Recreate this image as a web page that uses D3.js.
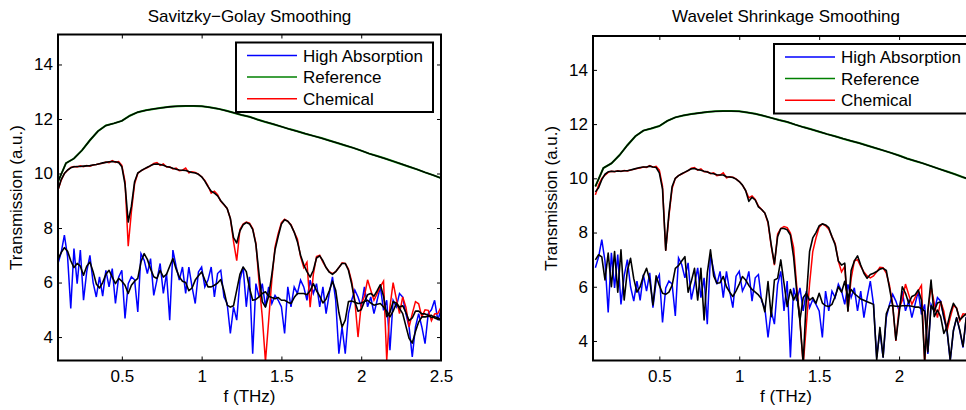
<!DOCTYPE html>
<html>
<head>
<meta charset="utf-8">
<script src="https://cdn.jsdelivr.net/npm/d3@7"></script>
<style>
  body { margin: 0; background: #fff; }
  svg { display: block; font-family: "Liberation Sans", Arial, Helvetica, sans-serif; }
</style>
</head>
<body>
<svg id="chart" width="966" height="410"></svg>
<script>
// frequency grid (THz)
const freq = [
  0.10, 0.12, 0.14, 0.16, 0.18, 0.20, 0.22, 0.24, 0.26, 0.28,
  0.30, 0.32, 0.34, 0.36, 0.38, 0.40, 0.42, 0.44, 0.46, 0.48,
  0.50, 0.52, 0.54, 0.56, 0.58, 0.60, 0.62, 0.64, 0.66, 0.68,
  0.70, 0.72, 0.74, 0.76, 0.78, 0.80, 0.82, 0.84, 0.86, 0.88,
  0.90, 0.92, 0.94, 0.96, 0.98, 1.00, 1.02, 1.04, 1.06, 1.08,
  1.10, 1.12, 1.14, 1.16, 1.18, 1.20, 1.22, 1.24, 1.26, 1.28,
  1.30, 1.32, 1.34, 1.36, 1.38, 1.40, 1.42, 1.44, 1.46, 1.48,
  1.50, 1.52, 1.54, 1.56, 1.58, 1.60, 1.62, 1.64, 1.66, 1.68,
  1.70, 1.72, 1.74, 1.76, 1.78, 1.80, 1.82, 1.84, 1.86, 1.88,
  1.90, 1.92, 1.94, 1.96, 1.98, 2.00, 2.02, 2.04, 2.06, 2.08,
  2.10, 2.12, 2.14, 2.16, 2.18, 2.20, 2.22, 2.24, 2.26, 2.28,
  2.30, 2.32, 2.34, 2.36, 2.38, 2.40, 2.42, 2.44, 2.46, 2.48,
  2.50
];

const refFreq = [
  0.10, 0.15, 0.20, 0.25, 0.30, 0.35, 0.40, 0.45, 0.50,
  0.55, 0.60, 0.65, 0.70, 0.75, 0.80, 0.85, 0.90, 0.95,
  1.00, 1.05, 1.10, 1.15, 1.20, 1.25, 1.30, 1.35, 1.40, 1.45,
  1.50, 1.55, 1.60, 1.65, 1.70, 1.75, 1.80, 1.85, 1.90, 1.95,
  2.00, 2.05, 2.10, 2.15, 2.20, 2.25, 2.30, 2.35, 2.40, 2.45, 2.50
];

const reference = [
  9.70, 10.38, 10.55, 10.85, 11.22, 11.55, 11.76, 11.84, 11.93,
  12.12, 12.25, 12.32, 12.37, 12.41, 12.45, 12.47, 12.48, 12.48,
  12.47, 12.43, 12.38, 12.31, 12.23, 12.15, 12.08, 11.98, 11.89, 11.81,
  11.72, 11.63, 11.55, 11.46, 11.38, 11.30, 11.21, 11.12, 11.03, 10.94,
  10.84, 10.73, 10.64, 10.55, 10.45, 10.35, 10.25, 10.15, 10.04, 9.94, 9.83
];

const highAbsorption = [
  6.70, 7.10, 7.74, 6.95, 5.05, 7.25, 5.96, 7.19, 5.35, 6.40,
  7.00, 6.00, 5.47, 6.21, 5.50, 6.45, 5.84, 6.51, 5.23, 6.20,
  6.45, 4.68, 5.96, 6.21, 6.10, 4.92, 7.06, 6.82, 6.33, 6.88,
  5.53, 6.09, 6.70, 5.60, 6.33, 4.62, 7.19, 6.60, 6.09, 6.57,
  5.60, 6.57, 5.84, 5.23, 6.39, 6.57, 5.84, 6.09, 6.57, 5.47,
  6.33, 6.45, 5.47, 5.23, 4.13, 5.11, 4.62, 6.09, 6.57, 5.11,
  6.21, 3.39, 5.96, 5.47, 5.96, 5.11, 5.84, 5.23, 5.53, 5.35,
  5.11, 4.13, 5.84, 5.11, 5.84, 5.60, 6.09, 5.84, 5.35, 6.09,
  5.60, 5.96, 5.11, 5.84, 4.86, 5.60, 6.21, 5.35, 3.39, 4.37,
  3.39, 4.86, 5.35, 5.72, 5.47, 5.11, 5.84, 5.11, 5.47, 4.86,
  5.35, 5.84, 4.98, 5.35, 3.52, 5.35, 5.11, 5.60, 5.47, 4.86,
  4.37, 3.27, 4.37, 4.86, 4.37, 3.76, 4.86, 5.00, 5.35, 4.62,
  5.00
];

const chemical = [
  9.39, 9.75, 10.00, 10.12, 10.22, 10.26, 10.24, 10.28, 10.25, 10.29,
  10.27, 10.31, 10.33, 10.36, 10.38, 10.42, 10.40, 10.47, 10.41, 10.44,
  10.30, 9.70, 7.33, 8.60, 9.62, 10.00, 10.10, 10.16, 10.22, 10.28,
  10.37, 10.40, 10.30, 10.35, 10.24, 10.25, 10.17, 10.20, 10.10, 10.12,
  10.20, 10.02, 10.06, 10.04, 9.98, 9.88, 9.75, 9.55, 9.28, 9.35,
  9.22, 8.98, 8.85, 8.72, 8.35, 7.50, 6.80, 7.95, 8.15, 8.22,
  8.18, 7.98, 7.45, 6.00, 4.75, 3.10, 4.60, 6.10, 7.30, 7.80,
  8.20, 8.32, 8.25, 8.12, 7.85, 7.60, 6.95, 6.55, 6.75, 5.10,
  6.30, 6.95, 7.00, 6.75, 6.55, 6.40, 6.33, 6.40, 6.55, 6.72,
  6.70, 6.50, 6.05, 5.35, 4.00, 5.20, 5.50, 6.10, 5.72, 5.35,
  5.60, 5.85, 6.05, 3.15, 5.10, 6.00, 5.40, 4.86, 5.47, 5.10,
  4.37, 4.86, 5.30, 5.22, 4.74, 5.00, 4.98, 4.60, 4.85, 4.86,
  5.10
];

// Savitzky-Golay smoothed
const highSG = [
  6.85, 7.10, 7.28, 7.15, 6.80, 6.55, 6.70, 6.60, 6.27, 6.60,
  6.75, 6.40, 5.95, 5.80, 6.00, 6.30, 6.45, 6.20, 5.96, 6.15,
  6.05, 5.90, 5.60, 5.90, 6.05, 6.15, 6.76, 7.06, 6.85, 6.50,
  6.21, 6.15, 6.45, 6.20, 6.30, 6.60, 6.88, 6.50, 6.20, 6.05,
  6.00, 5.70, 5.80, 6.09, 6.25, 6.39, 6.10, 5.84, 5.84, 5.90,
  5.98, 6.11, 5.70, 5.17, 5.10, 5.15, 5.72, 6.30, 6.57, 6.40,
  5.80, 5.35, 5.38, 5.47, 5.60, 5.66, 5.50, 5.45, 5.41, 5.45,
  5.35, 5.35, 5.28, 5.23, 5.45, 5.60, 5.60, 5.60, 5.55, 5.70,
  5.96, 5.70, 5.50, 5.25, 5.40, 5.70, 6.05, 5.72, 4.90, 4.37,
  4.62, 5.30, 5.32, 5.28, 5.23, 5.25, 5.30, 5.35, 5.25, 5.17,
  5.20, 5.23, 5.10, 4.95, 4.74, 4.95, 5.23, 5.05, 4.86, 4.40,
  3.95, 3.78, 4.20, 4.55, 4.74, 4.74, 4.76, 4.80, 4.70, 4.65,
  4.62
];

const chemSG = [
  9.40, 9.78, 10.00, 10.13, 10.21, 10.25, 10.26, 10.26, 10.27, 10.28,
  10.29, 10.31, 10.33, 10.36, 10.39, 10.41, 10.43, 10.44, 10.43, 10.40,
  10.25, 9.60, 8.22, 8.80, 9.70, 10.02, 10.10, 10.17, 10.23, 10.29,
  10.34, 10.35, 10.33, 10.30, 10.26, 10.23, 10.19, 10.16, 10.13, 10.12,
  10.11, 10.07, 10.04, 10.02, 9.97, 9.88, 9.72, 9.52, 9.35, 9.28,
  9.18, 9.00, 8.86, 8.72, 8.35, 7.65, 7.45, 7.90, 8.12, 8.20,
  8.15, 7.95, 7.40, 6.30, 5.30, 5.10, 5.50, 6.30, 7.20, 7.70,
  8.15, 8.30, 8.25, 8.10, 7.85, 7.50, 7.00, 6.65, 6.40, 6.20,
  6.45, 6.90, 6.98, 6.80, 6.55, 6.38, 6.30, 6.40, 6.55, 6.70,
  6.70, 6.45, 5.95, 5.30, 4.95, 5.00, 5.30, 5.55, 5.60, 5.50,
  5.70, 5.92, 5.50, 4.75, 4.90, 5.30, 5.25, 5.10, 5.15, 4.90,
  4.60, 4.70, 4.95, 4.95, 4.85, 4.85, 4.80, 4.72, 4.75, 4.70,
  4.65
];

// wavelet shrinkage smoothed
const highWav = [
  6.99, 7.18, 7.10, 6.25, 7.24, 6.00, 7.30, 5.80, 7.36, 5.51,
  6.60, 7.05, 6.30, 5.80, 6.00, 6.40, 6.68, 6.25, 5.33, 6.40,
  6.05, 5.76, 5.72, 5.80, 6.05, 6.68, 6.78, 6.95, 7.11, 5.80,
  6.20, 6.68, 5.51, 6.68, 4.78, 6.50, 7.36, 6.40, 6.13, 6.15,
  6.38, 6.00, 5.80, 5.64, 5.85, 6.10, 6.38, 6.25, 6.05, 5.90,
  5.80, 5.70, 5.55, 5.08, 6.19, 4.90, 6.25, 6.31, 6.99, 6.13,
  5.27, 5.90, 5.51, 5.76, 4.78, 5.60, 5.76, 5.51, 5.60, 5.39,
  5.76, 5.40, 5.30, 5.27, 5.35, 5.64, 6.00, 5.80, 6.20, 5.60,
  5.90, 5.75, 5.65, 5.55, 5.50, 5.45, 5.40, 5.35, 3.30, 4.50,
  3.40, 5.00, 5.30, 5.30, 5.28, 5.28, 5.30, 5.30, 5.30, 5.28,
  5.25, 5.25, 5.20, 5.10, 3.60, 5.30, 5.10, 5.40, 5.45, 4.90,
  4.40, 3.30, 4.40, 4.86, 4.40, 3.80, 4.86, 5.00, 5.30, 4.62,
  5.00
];

const chemWav = [
  9.50, 9.65, 9.95, 10.15, 10.24, 10.26, 10.25, 10.27, 10.26, 10.28,
  10.28, 10.31, 10.34, 10.37, 10.40, 10.42, 10.42, 10.45, 10.42, 10.40,
  10.20, 9.60, 7.35, 8.70, 9.70, 10.00, 10.10, 10.17, 10.23, 10.29,
  10.35, 10.36, 10.32, 10.30, 10.26, 10.23, 10.19, 10.17, 10.13, 10.12,
  10.12, 10.06, 10.05, 10.03, 9.97, 9.88, 9.75, 9.55, 9.15, 9.30,
  9.20, 8.95, 8.85, 8.72, 8.40, 7.55, 6.85, 7.85, 8.15, 8.15,
  8.10, 7.91, 7.10, 5.80, 4.70, 3.20, 5.60, 7.30, 7.80, 8.00,
  8.25, 8.32, 8.28, 8.18, 7.85, 7.55, 6.95, 6.80, 6.87, 5.10,
  6.60, 6.95, 7.14, 6.80, 6.50, 6.31, 6.45, 6.50, 6.56, 6.65,
  6.68, 6.60, 5.95, 5.30, 4.04, 5.00, 6.00, 5.76, 5.40, 5.64,
  5.70, 5.88, 5.51, 3.30, 5.10, 6.25, 4.90, 5.14, 4.90, 4.28,
  4.53, 5.02, 5.39, 5.20, 4.78, 4.90, 5.00, 4.60, 4.85, 4.80,
  5.00
];

const xTicks = [0.5, 1, 1.5, 2, 2.5];
const yTicks = [4, 6, 8, 10, 12, 14];
const legendLabels = ["High Absorption", "Reference", "Chemical"];
const legendColors = ["#0000ff", "#008000", "#ff0000"];

const panels = [
  {
    id: "sg", title: "Savitzky\u2212Golay Smoothing",
    left: 58, right: 441, top: 34.5, bottom: 360.5,
    xDomain: [0.1, 2.5], yDomain: [3.14, 15.1],
    high: highSG, chem: chemSG,
  },
  {
    id: "wav", title: "Wavelet Shrinkage Smoothing",
    left: 593, right: 979, top: 36, bottom: 360.5,
    xDomain: [0.085, 2.5], yDomain: [3.28, 15.25],
    high: highWav, chem: chemWav,
  },
];

const svg = d3.select("#chart");
const width = +svg.attr("width");
const fontSize = 17;

function drawPanel(p) {
  const x = d3.scaleLinear().domain(p.xDomain).range([p.left, p.right]);
  const y = d3.scaleLinear().domain(p.yDomain).range([p.bottom, p.top]);
  const g = svg.append("g");

  svg.append("clipPath").attr("id", `clip-${p.id}`)
    .append("rect")
    .attr("x", p.left).attr("y", p.top)
    .attr("width", p.right - p.left).attr("height", p.bottom - p.top);

  const plot = g.append("g").attr("clip-path", `url(#clip-${p.id})`);
  const line = (xs) => d3.line().x((d, i) => x(xs[i])).y((d) => y(d));

  // raw spectra
  plot.append("path").datum(highAbsorption).attr("d", line(freq))
    .attr("fill", "none").attr("stroke", "#0000ff").attr("stroke-width", 1.5);
  plot.append("path").datum(reference).attr("d", line(refFreq))
    .attr("fill", "none").attr("stroke", "#008000").attr("stroke-width", 2);
  plot.append("path").datum(chemical).attr("d", line(freq))
    .attr("fill", "none").attr("stroke", "#ff0000").attr("stroke-width", 1.5);

  // smoothed spectra
  [p.high, p.chem].forEach((s) => {
    plot.append("path").datum(s).attr("d", line(freq))
      .attr("fill", "none").attr("stroke", "#000").attr("stroke-width", 1.6)
      .attr("stroke-linejoin", "round");
  });
  plot.append("path").datum(reference).attr("d", line(refFreq))
    .attr("fill", "none").attr("stroke", "#000").attr("stroke-width", 1.3);

  // axes, ticks point inwards
  const fmt = (d) => (x(d) + 12 > width ? "" : String(d));
  g.append("g").attr("transform", `translate(0,${p.bottom})`)
    .call(d3.axisBottom(x).tickValues(xTicks).tickFormat(fmt)
      .tickSizeInner(-4).tickSizeOuter(0).tickPadding(9));
  g.append("g").attr("transform", `translate(${p.left},0)`)
    .call(d3.axisLeft(y).tickValues(yTicks).tickFormat(String)
      .tickSizeInner(-4).tickSizeOuter(0).tickPadding(5));
  g.append("g").attr("transform", `translate(0,${p.top})`)
    .call(d3.axisTop(x).tickValues(xTicks).tickFormat("")
      .tickSizeInner(-4).tickSizeOuter(0));
  g.append("g").attr("transform", `translate(${p.right},0)`)
    .call(d3.axisRight(y).tickValues(yTicks).tickFormat("")
      .tickSizeInner(-4).tickSizeOuter(0));

  g.selectAll(".domain").remove();
  g.selectAll(".tick line").attr("stroke", "#000").attr("stroke-width", 1);
  g.selectAll(".tick text").attr("fill", "#000")
    .style("font-size", `${fontSize}px`).style("font-family", null);

  g.append("rect")
    .attr("x", p.left).attr("y", p.top)
    .attr("width", p.right - p.left).attr("height", p.bottom - p.top)
    .attr("fill", "none").attr("stroke", "#000").attr("stroke-width", 2);

  // titles and labels
  const cx = (p.left + p.right) / 2;
  g.append("text").attr("x", cx).attr("y", 21.5)
    .attr("text-anchor", "middle").style("font-size", `${fontSize}px`)
    .text(p.title);
  g.append("text").attr("x", cx).attr("y", 402)
    .attr("text-anchor", "middle").style("font-size", `${fontSize}px`)
    .text("f (THz)");
  g.append("text")
    .attr("transform", `translate(${p.left - 36},${(p.top + p.bottom) / 2}) rotate(-90)`)
    .attr("text-anchor", "middle").style("font-size", `${fontSize}px`)
    .text("Transmission (a.u.)");

  // legend
  const lw = 197, lh = 69.5;
  const lx = p.right - 8 - lw, ly = p.top + 8;
  const legend = g.append("g").attr("transform", `translate(${lx},${ly})`);
  legend.append("rect").attr("width", lw).attr("height", lh)
    .attr("fill", "#fff").attr("stroke", "#000").attr("stroke-width", 2);
  legendLabels.forEach((label, i) => {
    const ry = 13 + i * 21.6;
    legend.append("line")
      .attr("x1", 11).attr("x2", 61).attr("y1", ry).attr("y2", ry)
      .attr("stroke", legendColors[i]).attr("stroke-width", 1.5);
    legend.append("text").attr("x", 67).attr("y", ry + 6)
      .style("font-size", `${fontSize}px`).text(label);
  });
}

panels.forEach(drawPanel);
</script>
</body>
</html>
